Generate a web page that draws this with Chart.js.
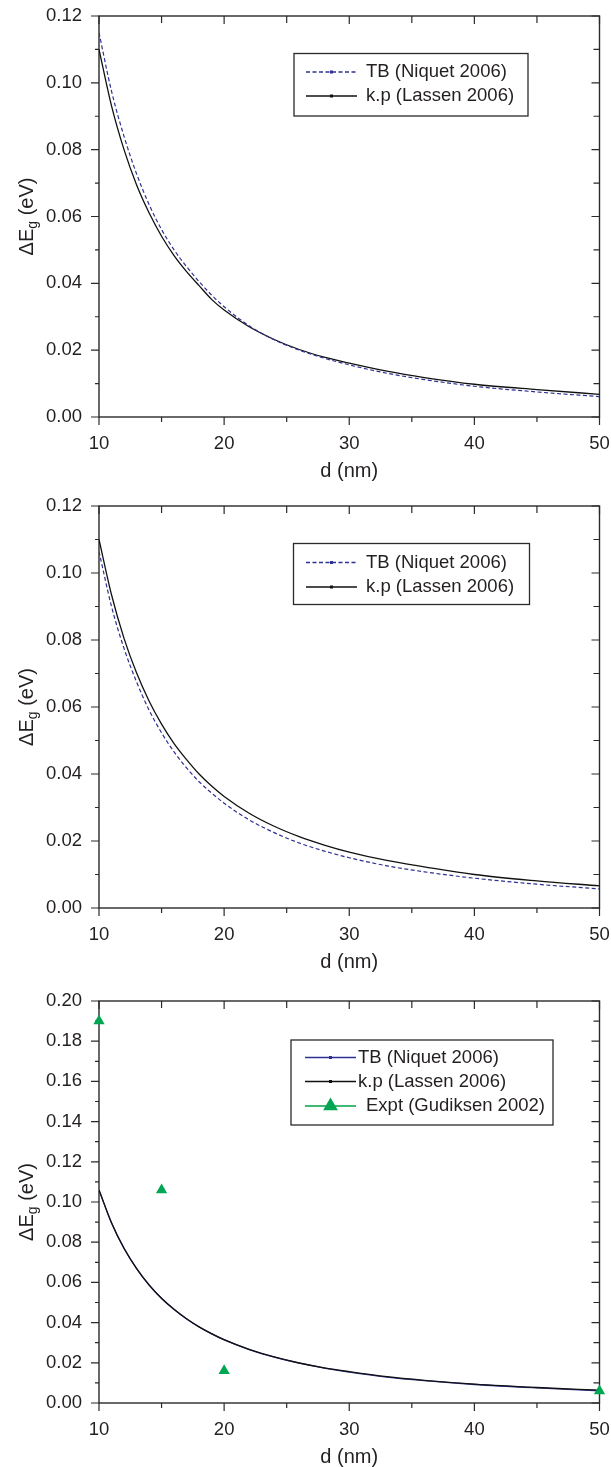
<!DOCTYPE html>
<html>
<head>
<meta charset="utf-8">
<title>Band gap shift vs diameter</title>
<script src="https://cdn.jsdelivr.net/npm/chart.js@4.4.1/dist/chart.umd.min.js"></script>
<style>
html, body { margin: 0; padding: 0; background: #fff; }
body { width: 611px; height: 1467px; overflow: hidden; position: relative; }
canvas { position: absolute; left: 0; display: block; }
</style>
</head>
<body>
<canvas id="p1" width="611" height="490" style="top:0px"></canvas>
<canvas id="p2" width="611" height="490" style="top:490px"></canvas>
<canvas id="p3" width="611" height="487" style="top:980px"></canvas>
<script>
"use strict";

const dNm = [10, 11, 12, 13, 14, 15, 16, 17, 18, 19, 20, 22, 24, 26, 28, 30, 33, 36, 40, 45, 50];

// top panel
const tbTop = [0.1150, 0.0975, 0.0840, 0.0728, 0.0636, 0.0561, 0.0500, 0.0450, 0.0405, 0.0365, 0.0330, 0.0273, 0.0231, 0.0200, 0.0176, 0.0156, 0.0131, 0.0112, 0.0092, 0.0075, 0.0061];
const kpTop = [0.1100, 0.0931, 0.0800, 0.0695, 0.0611, 0.0541, 0.0483, 0.0435, 0.0393, 0.0352, 0.0320, 0.0270, 0.0232, 0.0202, 0.0179, 0.0161, 0.0137, 0.0118, 0.0098, 0.0082, 0.0068];

// middle panel
const tbMid = [0.1064, 0.0900, 0.0775, 0.0675, 0.0591, 0.0523, 0.0466, 0.0418, 0.0377, 0.0343, 0.0313, 0.0263, 0.0225, 0.0194, 0.0170, 0.0150, 0.0126, 0.0108, 0.0089, 0.0071, 0.0057];
const kpMid = [0.1100, 0.0935, 0.0805, 0.0702, 0.0618, 0.0549, 0.0491, 0.0443, 0.0400, 0.0364, 0.0333, 0.0283, 0.0244, 0.0213, 0.0188, 0.0167, 0.0142, 0.0123, 0.0100, 0.0081, 0.0066];

// bottom panel
const tbBot = [0.1060, 0.0896, 0.0769, 0.0669, 0.0587, 0.0520, 0.0465, 0.0418, 0.0378, 0.0344, 0.0314, 0.0266, 0.0228, 0.0198, 0.0174, 0.0154, 0.0129, 0.0111, 0.0092, 0.0075, 0.0061];
const kpBot = [0.1060, 0.0897, 0.0770, 0.0670, 0.0588, 0.0521, 0.0466, 0.0419, 0.0379, 0.0345, 0.0315, 0.0267, 0.0229, 0.0199, 0.0175, 0.0156, 0.0131, 0.0113, 0.0094, 0.0077, 0.0064];
const exptD = [10, 15, 20, 50];
const exptE = [0.190, 0.106, 0.016, 0.006];

const INK = "#231f20";
const AXIS = "#2a2a2a";
const NAVY = "#2e3192";
const GREEN = "#00a651";
const GREEN_LINE = "#41b873";
const FONT = "'Liberation Sans', Arial, Helvetica, sans-serif";

const pts = (xs, ys) => xs.map((x, i) => ({ x, y: ys[i] }));

// box frame with major/minor ticks (outside on left/bottom, inside on top/right)
const framePlugin = {
    id: "frame",
    beforeDatasetsDraw(chart) {
        const { ctx, chartArea: a, scales: { x, y } } = chart;
        ctx.save();
        ctx.strokeStyle = AXIS;
        ctx.lineWidth = 1.4;
        ctx.strokeRect(a.left, a.top, a.right - a.left, a.bottom - a.top);
        ctx.lineWidth = 1.2;
        ctx.beginPath();
        for (let v = x.min; v <= x.max + 1e-9; v += 5) {
            const px = x.getPixelForValue(v), major = Math.round(v) % 10 === 0;
            ctx.moveTo(px, a.bottom); ctx.lineTo(px, a.bottom + (major ? 8 : 5));
            ctx.moveTo(px, a.top); ctx.lineTo(px, a.top + (major ? 8 : 7));
        }
        const n = Math.round(y.max / 0.01);
        for (let i = 0; i <= n; i++) {
            const py = y.getPixelForValue(i * 0.01), major = i % 2 === 0;
            ctx.moveTo(a.left, py); ctx.lineTo(a.left - (major ? 8 : 4), py);
            ctx.moveTo(a.right, py); ctx.lineTo(a.right - (major ? 8 : 6), py);
        }
        ctx.stroke();
        ctx.restore();
    }
};

// rotated y title with subscript g
const yTitlePlugin = {
    id: "yTitle",
    afterDraw(chart) {
        const { ctx, chartArea: a } = chart;
        const big = `20px ${FONT}`, small = `14px ${FONT}`;
        ctx.save();
        ctx.translate(27, (a.top + a.bottom) / 2);
        ctx.rotate(-Math.PI / 2);
        ctx.fillStyle = INK;
        ctx.textBaseline = "middle";
        ctx.textAlign = "left";
        ctx.font = big;
        const w1 = ctx.measureText("ΔE").width, w3 = ctx.measureText(" (eV)").width;
        ctx.font = small;
        const w2 = ctx.measureText("g").width;
        const x0 = -(w1 + w2 + w3) / 2;
        ctx.font = big; ctx.fillText("ΔE", x0, 0);
        ctx.font = small; ctx.fillText("g", x0 + w1, 6);
        ctx.font = big; ctx.fillText(" (eV)", x0 + w1 + w2, 0);
        ctx.restore();
    }
};

// boxed legend: line sample + marker + label, like the original plot
const boxLegend = {
    id: "boxLegend",
    afterDraw(chart, args, o) {
        const { ctx } = chart;
        ctx.save();
        ctx.fillStyle = "#fff";
        ctx.fillRect(o.left, o.top, o.width, o.height);
        ctx.strokeStyle = AXIS;
        ctx.lineWidth = 1.3;
        ctx.strokeRect(o.left, o.top, o.width, o.height);
        ctx.font = `18.5px ${FONT}`;
        ctx.textBaseline = "middle";
        ctx.textAlign = "left";
        chart.data.datasets.forEach((ds, i) => {
            const yy = o.top + o.rows[i];
            const mid = (o.x0 + o.x1) / 2;
            ctx.beginPath();
            ctx.setLineDash(ds.borderDash || []);
            ctx.strokeStyle = ds.legendLine || ds.borderColor;
            ctx.lineWidth = ds.legendMarker === "triangle" ? 2 : 1.3;
            ctx.moveTo(o.x0, yy); ctx.lineTo(o.x1, yy);
            ctx.stroke();
            ctx.setLineDash([]);
            ctx.fillStyle = ds.legendMarker === "triangle" ? GREEN : ds.borderColor;
            if (ds.legendMarker === "triangle") {
                const r = 8.5;
                ctx.beginPath();
                ctx.moveTo(mid, yy - r);
                ctx.lineTo(mid + 0.866 * r, yy + r / 2);
                ctx.lineTo(mid - 0.866 * r, yy + r / 2);
                ctx.closePath();
                ctx.fill();
            } else {
                ctx.fillRect(mid - 1.5, yy - 1.5, 3, 3);
            }
            ctx.fillStyle = INK;
            ctx.fillText(ds.label, (o.textX[i] || o.textX[0]), yy);
        });
        ctx.restore();
    }
};

function lineSet(label, xs, ys, color, dash, order) {
    return {
        label, data: pts(xs, ys), borderColor: color, borderWidth: dash ? 1.2 : 1.3,
        borderDash: dash || [], pointRadius: 0, cubicInterpolationMode: "monotone",
        fill: false, order, legendMarker: "dot"
    };
}

function makePanel(id, cfg) {
    return new Chart(document.getElementById(id), {
        type: "line",
        data: { datasets: cfg.datasets },
        options: {
            responsive: false,
            animation: false,
            events: [],
            layout: { padding: { left: 0, right: 11.5, top: cfg.top, bottom: cfg.bottom } },
            plugins: { legend: { display: false }, tooltip: { enabled: false }, boxLegend: cfg.legend },
            scales: {
                x: {
                    type: "linear", min: 10, max: 50,
                    // fixed height, and let the end labels hang over like in the print
                    afterFit: s => { s.height = cfg.xh; s.paddingLeft = 0; s.paddingRight = 0; },
                    grid: { display: false, drawTicks: true, tickLength: 8 },
                    border: { display: false },
                    ticks: { stepSize: 10, padding: 8, color: INK, font: { family: FONT, size: 18.5 } },
                    title: { display: true, text: "d (nm)", color: INK, padding: 0,
                             font: { family: FONT, size: 20, lineHeight: 1 } }
                },
                y: {
                    type: "linear", min: 0, max: cfg.ymax,
                    afterFit: s => { s.width = 99; s.paddingTop = 0; s.paddingBottom = 0; },
                    grid: { display: false, drawTicks: true, tickLength: 8 },
                    border: { display: false },
                    ticks: { stepSize: 0.02, padding: 9, color: INK, font: { family: FONT, size: 18.5 },
                             callback: v => v.toFixed(2) }
                }
            }
        },
        plugins: [framePlugin, yTitlePlugin, boxLegend]
    });
}

makePanel("p1", {
    top: 16, bottom: 9, xh: 64, ymax: 0.12,
    datasets: [
        lineSet("TB (Niquet 2006)", dNm, tbTop, NAVY, [4, 2.5], 0),
        lineSet("k.p (Lassen 2006)", dNm, kpTop, "#111", null, 1)
    ],
    legend: { left: 294, top: 53.5, width: 234, height: 62.5, rows: [18.5, 42.5], x0: 306, x1: 357, textX: [366] }
});

makePanel("p2", {
    top: 16, bottom: 8, xh: 64, ymax: 0.12,
    datasets: [
        lineSet("TB (Niquet 2006)", dNm, tbMid, NAVY, [4, 2.5], 0),
        lineSet("k.p (Lassen 2006)", dNm, kpMid, "#111", null, 1)
    ],
    legend: { left: 293.5, top: 53.5, width: 236, height: 61, rows: [19, 43.5], x0: 306, x1: 357, textX: [366] }
});

const expt = {
    label: "Expt (Gudiksen 2002)", data: pts(exptD, exptE), showLine: false,
    pointStyle: "triangle", pointRadius: 6.5, pointBackgroundColor: GREEN, pointBorderWidth: 0,
    borderColor: GREEN, backgroundColor: GREEN, clip: false, order: 0,
    legendMarker: "triangle", legendLine: GREEN_LINE
};

makePanel("p3", {
    top: 21, bottom: 0, xh: 64, ymax: 0.20,
    datasets: [
        lineSet("TB (Niquet 2006)", dNm, tbBot, NAVY, null, 2),
        lineSet("k.p (Lassen 2006)", dNm, kpBot, "#111", null, 1),
        expt
    ],
    legend: { left: 291, top: 60, width: 262, height: 85, rows: [17.5, 41.5, 66], x0: 305, x1: 356, textX: [358, 358, 366] }
});
</script>
</body>
</html>
